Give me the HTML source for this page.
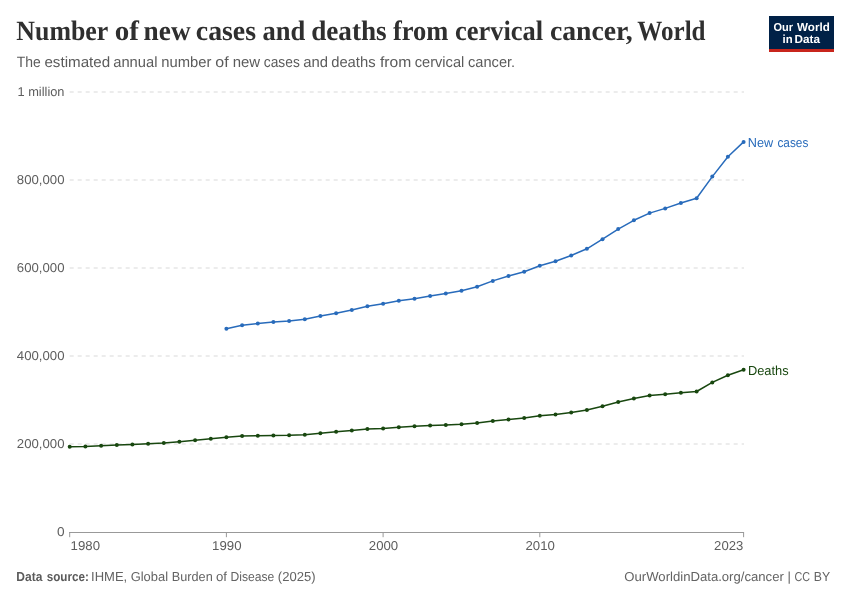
<!DOCTYPE html>
<html><head><meta charset="utf-8"><title>Number of new cases and deaths from cervical cancer, World</title>
<style>
html,body{margin:0;padding:0;background:#fff;}
svg{display:block;will-change:transform;text-rendering:geometricPrecision;font-family:"Liberation Sans",sans-serif;}
.t{font-family:"Liberation Serif",serif;font-weight:bold;font-size:28px;fill:#2f2f2f;}
.s{font-size:15px;fill:#5b5b5b;}
.ax text{font-size:12.9px;fill:#5e5e5e;}
.f{font-size:13px;fill:#636363;}
.lb1{font-size:13px;fill:#286bbb;}
.lb2{font-size:13px;fill:#18470f;}
.fb{font-weight:bold;fill:#5b5b5b;}
.fr{font-size:13px;}
.lg{font-weight:bold;font-size:11.6px;fill:#fff;}
</style></head>
<body>
<svg width="850" height="600" viewBox="0 0 850 600">
<rect width="850" height="600" fill="#fff"/>
<text class="t" x="16.34" y="40" textLength="91.97" lengthAdjust="spacingAndGlyphs">Number</text>
<text class="t" x="114.86" y="40" textLength="24.16" lengthAdjust="spacingAndGlyphs">of</text>
<text class="t" x="143.57" y="40" textLength="47.06" lengthAdjust="spacingAndGlyphs">new</text>
<text class="t" x="195.81" y="40" textLength="60.25" lengthAdjust="spacingAndGlyphs">cases</text>
<text class="t" x="262.55" y="40" textLength="42.83" lengthAdjust="spacingAndGlyphs">and</text>
<text class="t" x="311.19" y="40" textLength="75.49" lengthAdjust="spacingAndGlyphs">deaths</text>
<text class="t" x="392.96" y="40" textLength="55.38" lengthAdjust="spacingAndGlyphs">from</text>
<text class="t" x="455.06" y="40" textLength="88.15" lengthAdjust="spacingAndGlyphs">cervical</text>
<text class="t" x="549.91" y="40" textLength="82.9" lengthAdjust="spacingAndGlyphs">cancer,</text>
<text class="t" x="637.35" y="40" textLength="68.16" lengthAdjust="spacingAndGlyphs">World</text>
<text class="s" x="16.67" y="66.5" textLength="24.0" lengthAdjust="spacingAndGlyphs">The</text>
<text class="s" x="44.44" y="66.5" textLength="65.72" lengthAdjust="spacingAndGlyphs">estimated</text>
<text class="s" x="113.26" y="66.5" textLength="44.16" lengthAdjust="spacingAndGlyphs">annual</text>
<text class="s" x="161.21" y="66.5" textLength="50.14" lengthAdjust="spacingAndGlyphs">number</text>
<text class="s" x="215.3" y="66.5" textLength="13.31" lengthAdjust="spacingAndGlyphs">of</text>
<text class="s" x="232.7" y="66.5" textLength="27.43" lengthAdjust="spacingAndGlyphs">new</text>
<text class="s" x="263.81" y="66.5" textLength="35.99" lengthAdjust="spacingAndGlyphs">cases</text>
<text class="s" x="303.16" y="66.5" textLength="24.76" lengthAdjust="spacingAndGlyphs">and</text>
<text class="s" x="331.16" y="66.5" textLength="44.38" lengthAdjust="spacingAndGlyphs">deaths</text>
<text class="s" x="379.94" y="66.5" textLength="31.3" lengthAdjust="spacingAndGlyphs">from</text>
<text class="s" x="414.77" y="66.5" textLength="49.51" lengthAdjust="spacingAndGlyphs">cervical</text>
<text class="s" x="468.07" y="66.5" textLength="47.07" lengthAdjust="spacingAndGlyphs">cancer.</text>

<g>
<rect x="769" y="16" width="65" height="36" fill="#002147"/>
<rect x="769" y="49" width="65" height="3" fill="#c8251c"/>
<text class="lg" x="773.53" y="31.0" textLength="19.49" lengthAdjust="spacingAndGlyphs">Our</text>
<text class="lg" x="797.1" y="31.0" textLength="32.64" lengthAdjust="spacingAndGlyphs">World</text>
<text class="lg" x="782.57" y="43.0" textLength="10.08" lengthAdjust="spacingAndGlyphs">in</text>
<text class="lg" x="794.54" y="43.0" textLength="25.45" lengthAdjust="spacingAndGlyphs">Data</text>

</g>
<g class="ax">
<line x1="69.7" x2="744" y1="92" y2="92" stroke="#d9d9d9" stroke-width="1" stroke-dasharray="4,4"/>
<line x1="69.7" x2="744" y1="180" y2="180" stroke="#d9d9d9" stroke-width="1" stroke-dasharray="4,4"/>
<line x1="69.7" x2="744" y1="268" y2="268" stroke="#d9d9d9" stroke-width="1" stroke-dasharray="4,4"/>
<line x1="69.7" x2="744" y1="356" y2="356" stroke="#d9d9d9" stroke-width="1" stroke-dasharray="4,4"/>
<line x1="69.7" x2="744" y1="444" y2="444" stroke="#d9d9d9" stroke-width="1" stroke-dasharray="4,4"/>
<text x="64.5" y="96.4" text-anchor="end" textLength="47" lengthAdjust="spacingAndGlyphs">1 million</text>
<text x="64.5" y="184.4" text-anchor="end" textLength="47.7" lengthAdjust="spacingAndGlyphs">800,000</text>
<text x="64.5" y="272.4" text-anchor="end" textLength="47.7" lengthAdjust="spacingAndGlyphs">600,000</text>
<text x="64.5" y="360.4" text-anchor="end" textLength="47.7" lengthAdjust="spacingAndGlyphs">400,000</text>
<text x="64.5" y="448.4" text-anchor="end" textLength="47.7" lengthAdjust="spacingAndGlyphs">200,000</text>
<text x="64.6" y="535.8" text-anchor="end" textLength="7.6" lengthAdjust="spacingAndGlyphs">0</text>
<line x1="69" x2="744" y1="532.5" y2="532.5" stroke="#999" stroke-width="1"/>
<line x1="69.7" x2="69.7" y1="532" y2="537.2" stroke="#999" stroke-width="1"/>
<line x1="226.4" x2="226.4" y1="532" y2="537.2" stroke="#999" stroke-width="1"/>
<line x1="383.1" x2="383.1" y1="532" y2="537.2" stroke="#999" stroke-width="1"/>
<line x1="539.8" x2="539.8" y1="532" y2="537.2" stroke="#999" stroke-width="1"/>
<line x1="743.6" x2="743.6" y1="532" y2="537.2" stroke="#999" stroke-width="1"/>
<text x="70.6" y="549.9" textLength="29.4" lengthAdjust="spacingAndGlyphs">1980</text>
<text x="226.8" y="549.9" text-anchor="middle" textLength="29.4" lengthAdjust="spacingAndGlyphs">1990</text>
<text x="383.5" y="549.9" text-anchor="middle" textLength="29.4" lengthAdjust="spacingAndGlyphs">2000</text>
<text x="540.2" y="549.9" text-anchor="middle" textLength="29.4" lengthAdjust="spacingAndGlyphs">2010</text>
<text x="743.3" y="549.9" text-anchor="end" textLength="29.2" lengthAdjust="spacingAndGlyphs">2023</text>
</g>
<path d="M69.7,446.7 L85.4,446.5 L101.1,445.8 L116.8,445.0 L132.4,444.4 L148.1,443.7 L163.8,443.1 L179.4,441.8 L195.1,440.3 L210.8,438.8 L226.4,437.3 L242.1,436.0 L257.8,435.8 L273.4,435.4 L289.1,435.3 L304.8,434.8 L320.4,433.3 L336.1,431.8 L351.8,430.5 L367.4,429.1 L383.1,428.4 L398.8,427.3 L414.5,426.3 L430.1,425.5 L445.8,424.9 L461.5,424.2 L477.1,423.0 L492.8,421.0 L508.5,419.4 L524.2,417.9 L539.8,415.8 L555.5,414.5 L571.2,412.5 L586.9,409.9 L602.5,406.2 L618.2,402.1 L633.9,398.5 L649.6,395.6 L665.2,394.3 L680.9,392.8 L696.6,391.5 L712.3,382.4 L727.9,375.2 L743.6,369.8" fill="none" stroke="#18470f" stroke-width="1.5" stroke-linejoin="round" stroke-linecap="round"/>
<circle cx="69.7" cy="446.7" r="2" fill="#18470f"/><circle cx="85.4" cy="446.5" r="2" fill="#18470f"/><circle cx="101.1" cy="445.8" r="2" fill="#18470f"/><circle cx="116.8" cy="445.0" r="2" fill="#18470f"/><circle cx="132.4" cy="444.4" r="2" fill="#18470f"/><circle cx="148.1" cy="443.7" r="2" fill="#18470f"/><circle cx="163.8" cy="443.1" r="2" fill="#18470f"/><circle cx="179.4" cy="441.8" r="2" fill="#18470f"/><circle cx="195.1" cy="440.3" r="2" fill="#18470f"/><circle cx="210.8" cy="438.8" r="2" fill="#18470f"/><circle cx="226.4" cy="437.3" r="2" fill="#18470f"/><circle cx="242.1" cy="436.0" r="2" fill="#18470f"/><circle cx="257.8" cy="435.8" r="2" fill="#18470f"/><circle cx="273.4" cy="435.4" r="2" fill="#18470f"/><circle cx="289.1" cy="435.3" r="2" fill="#18470f"/><circle cx="304.8" cy="434.8" r="2" fill="#18470f"/><circle cx="320.4" cy="433.3" r="2" fill="#18470f"/><circle cx="336.1" cy="431.8" r="2" fill="#18470f"/><circle cx="351.8" cy="430.5" r="2" fill="#18470f"/><circle cx="367.4" cy="429.1" r="2" fill="#18470f"/><circle cx="383.1" cy="428.4" r="2" fill="#18470f"/><circle cx="398.8" cy="427.3" r="2" fill="#18470f"/><circle cx="414.5" cy="426.3" r="2" fill="#18470f"/><circle cx="430.1" cy="425.5" r="2" fill="#18470f"/><circle cx="445.8" cy="424.9" r="2" fill="#18470f"/><circle cx="461.5" cy="424.2" r="2" fill="#18470f"/><circle cx="477.1" cy="423.0" r="2" fill="#18470f"/><circle cx="492.8" cy="421.0" r="2" fill="#18470f"/><circle cx="508.5" cy="419.4" r="2" fill="#18470f"/><circle cx="524.2" cy="417.9" r="2" fill="#18470f"/><circle cx="539.8" cy="415.8" r="2" fill="#18470f"/><circle cx="555.5" cy="414.5" r="2" fill="#18470f"/><circle cx="571.2" cy="412.5" r="2" fill="#18470f"/><circle cx="586.9" cy="409.9" r="2" fill="#18470f"/><circle cx="602.5" cy="406.2" r="2" fill="#18470f"/><circle cx="618.2" cy="402.1" r="2" fill="#18470f"/><circle cx="633.9" cy="398.5" r="2" fill="#18470f"/><circle cx="649.6" cy="395.6" r="2" fill="#18470f"/><circle cx="665.2" cy="394.3" r="2" fill="#18470f"/><circle cx="680.9" cy="392.8" r="2" fill="#18470f"/><circle cx="696.6" cy="391.5" r="2" fill="#18470f"/><circle cx="712.3" cy="382.4" r="2" fill="#18470f"/><circle cx="727.9" cy="375.2" r="2" fill="#18470f"/><circle cx="743.6" cy="369.8" r="2" fill="#18470f"/>
<path d="M226.4,328.7 L242.1,325.3 L257.8,323.6 L273.4,322.1 L289.1,321.1 L304.8,319.2 L320.4,316.0 L336.1,313.2 L351.8,309.9 L367.4,306.3 L383.1,303.8 L398.8,300.8 L414.5,298.7 L430.1,295.9 L445.8,293.6 L461.5,290.8 L477.1,286.8 L492.8,280.9 L508.5,276.0 L524.2,271.8 L539.8,265.8 L555.5,261.3 L571.2,255.5 L586.9,248.8 L602.5,239.2 L618.2,229.1 L633.9,220.3 L649.6,213.1 L665.2,208.4 L680.9,203.0 L696.6,198.3 L712.3,176.6 L727.9,156.7 L743.6,141.9" fill="none" stroke="#286bbb" stroke-width="1.5" stroke-linejoin="round" stroke-linecap="round"/>
<circle cx="226.4" cy="328.7" r="2" fill="#286bbb"/><circle cx="242.1" cy="325.3" r="2" fill="#286bbb"/><circle cx="257.8" cy="323.6" r="2" fill="#286bbb"/><circle cx="273.4" cy="322.1" r="2" fill="#286bbb"/><circle cx="289.1" cy="321.1" r="2" fill="#286bbb"/><circle cx="304.8" cy="319.2" r="2" fill="#286bbb"/><circle cx="320.4" cy="316.0" r="2" fill="#286bbb"/><circle cx="336.1" cy="313.2" r="2" fill="#286bbb"/><circle cx="351.8" cy="309.9" r="2" fill="#286bbb"/><circle cx="367.4" cy="306.3" r="2" fill="#286bbb"/><circle cx="383.1" cy="303.8" r="2" fill="#286bbb"/><circle cx="398.8" cy="300.8" r="2" fill="#286bbb"/><circle cx="414.5" cy="298.7" r="2" fill="#286bbb"/><circle cx="430.1" cy="295.9" r="2" fill="#286bbb"/><circle cx="445.8" cy="293.6" r="2" fill="#286bbb"/><circle cx="461.5" cy="290.8" r="2" fill="#286bbb"/><circle cx="477.1" cy="286.8" r="2" fill="#286bbb"/><circle cx="492.8" cy="280.9" r="2" fill="#286bbb"/><circle cx="508.5" cy="276.0" r="2" fill="#286bbb"/><circle cx="524.2" cy="271.8" r="2" fill="#286bbb"/><circle cx="539.8" cy="265.8" r="2" fill="#286bbb"/><circle cx="555.5" cy="261.3" r="2" fill="#286bbb"/><circle cx="571.2" cy="255.5" r="2" fill="#286bbb"/><circle cx="586.9" cy="248.8" r="2" fill="#286bbb"/><circle cx="602.5" cy="239.2" r="2" fill="#286bbb"/><circle cx="618.2" cy="229.1" r="2" fill="#286bbb"/><circle cx="633.9" cy="220.3" r="2" fill="#286bbb"/><circle cx="649.6" cy="213.1" r="2" fill="#286bbb"/><circle cx="665.2" cy="208.4" r="2" fill="#286bbb"/><circle cx="680.9" cy="203.0" r="2" fill="#286bbb"/><circle cx="696.6" cy="198.3" r="2" fill="#286bbb"/><circle cx="712.3" cy="176.6" r="2" fill="#286bbb"/><circle cx="727.9" cy="156.7" r="2" fill="#286bbb"/><circle cx="743.6" cy="141.9" r="2" fill="#286bbb"/>

<text class="lb1" x="747.82" y="147" textLength="25.39" lengthAdjust="spacingAndGlyphs">New</text>
<text class="lb1" x="777.45" y="147" textLength="30.88" lengthAdjust="spacingAndGlyphs">cases</text>
<text class="lb2" x="747.91" y="375" textLength="40.74" lengthAdjust="spacingAndGlyphs">Deaths</text>

<text class="f fb" x="16.31" y="580.6" textLength="26.04" lengthAdjust="spacingAndGlyphs">Data</text>
<text class="f fb" x="46.65" y="580.6" textLength="42.14" lengthAdjust="spacingAndGlyphs">source:</text>
<text class="f" x="91.05" y="580.6" textLength="36.18" lengthAdjust="spacingAndGlyphs">IHME,</text>
<text class="f" x="130.65" y="580.6" textLength="37.37" lengthAdjust="spacingAndGlyphs">Global</text>
<text class="f" x="171.82" y="580.6" textLength="40.87" lengthAdjust="spacingAndGlyphs">Burden</text>
<text class="f" x="215.99" y="580.6" textLength="11.05" lengthAdjust="spacingAndGlyphs">of</text>
<text class="f" x="230.57" y="580.6" textLength="43.77" lengthAdjust="spacingAndGlyphs">Disease</text>
<text class="f" x="277.85" y="580.6" textLength="37.68" lengthAdjust="spacingAndGlyphs">(2025)</text>
<text class="f fr" x="624.34" y="580.6" textLength="159.51" lengthAdjust="spacingAndGlyphs">OurWorldinData.org/cancer</text>
<text class="f fr" x="794.38" y="580.6" textLength="15.56" lengthAdjust="spacingAndGlyphs">CC</text>
<text class="f fr" x="813.86" y="580.6" textLength="16.37" lengthAdjust="spacingAndGlyphs">BY</text>
<text class="f fr" x="787.5" y="580.6">|</text>

</svg>
</body></html>
